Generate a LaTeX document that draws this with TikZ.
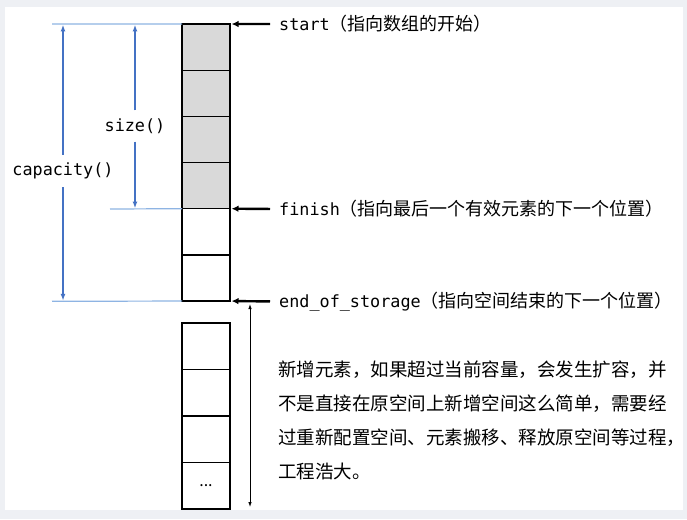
\documentclass[tikz,border=0pt]{standalone}
\usepackage{fontspec}
\setmonofont{DejaVu Sans Mono}
\newfontfamily\cjk{Noto Sans CJK SC}
\usetikzlibrary{arrows.meta,positioning}
\definecolor{pagegray}{HTML}{EEF0F4}
\definecolor{dimline}{HTML}{8EB4E3}
\definecolor{dimblue}{HTML}{4472C4}
\definecolor{usedcell}{HTML}{D9D9D9}
\newcommand{\cjklabel}[1]{{\cjk\fontsize{18}{20}\selectfont #1}}
\tikzset{cell/.style={draw,line width=1.3pt,minimum width=48pt,minimum height=46.17pt,inner sep=0pt,outer sep=0pt},
	used/.style={cell,fill=usedcell},
	freecell/.style={cell,minimum height=46.5pt},
	extline/.style={draw=dimline,line width=1.2pt},
	dimension/.style={draw=dimblue,line width=1.5pt,-{Latex[length=7pt,width=5pt]}},
	pointer/.style={draw,line width=2.4pt,-{Latex[length=7pt,width=6.5pt]},shorten <=6pt,shorten >=1.5pt},
	growarrow/.style={draw,line width=0.8pt,{Latex[length=5pt,width=3.5pt]}-{Latex[length=5pt,width=3.5pt]}},
	ptrlabel/.style={anchor=west,inner sep=3pt,font=\ttfamily\fontsize{16.8}{20}\selectfont},
	dimlabel/.style={font=\ttfamily\fontsize{16.8}{20}\selectfont,inner xsep=0pt,inner ysep=8pt}}

\begin{document}
\begin{tikzpicture}[x=1pt,y=-1pt]
\useasboundingbox (0,0) rectangle (687,519);
\fill[pagegray] (0,0) rectangle (687,519);
\fill[white] (5,7) rectangle (683,510);

\node[used] (u1) at (206,47.1) {};
\foreach \i [count=\j from 2] in {1,2,3}
  \node[used,below=0pt of u\i] (u\j) {};
\foreach \i [count=\j from 5] in {4,5}
  \node[cell,below=0pt of u\i] (u\j) {};

\node[freecell] (l1) at (206,346.25) {};
\foreach \i [count=\j from 2] in {1,2}
  \node[freecell,below=0pt of l\i] (l\j) {};
\node[freecell,below=0pt of l3,font=\cjk\fontsize{16}{16}\selectfont] (l4) {...};

\coordinate (topext) at (52,24);
\coordinate (finext) at (110,209);
\coordinate (botext) at (52,301.3);
\draw[extline] (topext) -- (u1.north west);
\draw[extline] (finext) -- (u4.south west);
\draw[extline] (botext) -- (u6.south west);

\node[dimlabel] (cap) at (63,171) {capacity()};
\coordinate (capT) at (63,24.5);
\coordinate (capB) at (63,300.8);
\draw[dimension] (cap.north) -- (capT);
\draw[dimension] (cap.south) -- (capB);

\node[dimlabel] (size) at (135,126) {size()};
\coordinate (sizeT) at (135,24.5);
\coordinate (sizeB) at (135,208.5);
\draw[dimension] (size.north) -- (sizeT);
\draw[dimension] (size.south) -- (sizeB);

\node[ptrlabel] (start) at (276,24) {start\cjklabel{（指向数组的开始）}};
\node[ptrlabel] (fin) at (276,209) {finish\cjklabel{（指向最后一个有效元素的下一个位置）}};
\node[ptrlabel] (eos) at (276,301.5) {end\_of\_storage\cjklabel{（指向空间结束的下一个位置）}};
\draw[pointer] (start.west) -- (u1.north east);
\draw[pointer] (fin.west) -- (u4.south east);
\draw[pointer] (eos.west) -- (u6.south east);

\coordinate (growT) at (250,304);
\coordinate (growB) at (250,507);
\draw[growarrow] (growT) -- (growB);

\node[anchor=north west,inner sep=0pt,align=left,font=\cjk\fontsize{18.5}{34}\selectfont] (note) at (278,360.5)
  {新增元素，如果超过当前容量，会发生扩容，并\\不是直接在原空间上新增空间这么简单，需要经\\过重新配置空间、元素搬移、释放原空间等过程，\\工程浩大。};
\end{tikzpicture}
\end{document}
